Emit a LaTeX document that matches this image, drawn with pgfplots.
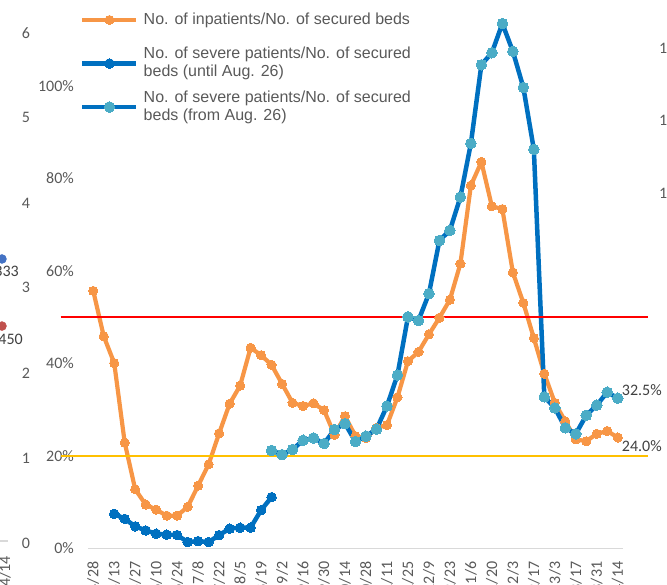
\documentclass[border=0pt]{standalone}
\usepackage{pgfplots}
\pgfplotsset{compat=1.18}
\usepackage{fontspec}
\setmainfont{Liberation Sans}
\newfontfamily\carlito{Carlito}
\definecolor{cor}{HTML}{F79646}
\definecolor{cdb}{HTML}{0070C0}
\definecolor{clb}{HTML}{4BACC6}
\definecolor{tickgray}{HTML}{595959}
\definecolor{lblgray}{HTML}{404040}
\definecolor{axgray}{HTML}{D9D9D9}
\definecolor{cred}{HTML}{FF0000}
\definecolor{cyel}{HTML}{FFC000}
\definecolor{sblue}{HTML}{4472C4}
\definecolor{sred}{HTML}{C0504D}
\newcommand{\tickfont}{\carlito\fontsize{16}{19}\selectfont}
\begin{document}
\begin{tikzpicture}
\begin{axis}[name=ax, scale only axis, width=535pt, height=548.5pt,
 xmin=-0.5, xmax=50.5, ymin=0, ymax=118.6, clip=false,
 axis x line*=bottom, axis y line*=left,
 y axis line style={draw=none},
 x axis line style={draw=axgray, line width=1.5pt},
 major tick length=0pt,
 xtick={0,2,...,50},
 xticklabels={4/28,5/13,5/27,6/10,6/24,7/8,7/22,8/5,8/19,9/2,9/16,9/30,10/14,10/28,11/11,11/25,12/9,12/23,1/6,1/20,2/3,2/17,3/3,3/17,3/31,4/14},
 xticklabel style={rotate=90, anchor=east, inner sep=0pt, font=\tickfont, text=tickgray},
 xticklabel shift=13pt,
 ytick={0,20,...,100},
 yticklabels={0\%,20\%,40\%,60\%,80\%,100\%},
 yticklabel style={inner sep=0pt, font=\tickfont, text=tickgray},
 yticklabel shift=14pt,
 legend cell align=left,
 legend style={at={(axis description cs:-0.0145,1.0032)}, anchor=north west, draw=none, fill=none,
   inner sep=0pt, outer sep=0pt, row sep=0pt, column sep=5pt, nodes={inner sep=0pt, text depth=},
   font=\fontsize{16}{18}\selectfont, text=tickgray},
 legend image code/.code={\draw[mark repeat=2,mark phase=2,#1] plot coordinates {(0pt,0pt) (27pt,0pt) (54pt,0pt)};},
]
% inpatients / secured beds
\addplot[color=cor, line width=4.2pt, line join=round, mark=*, mark size=4.6pt, mark options={fill=cor, draw=cor, line width=0pt}] coordinates {
(0,55.7)(1,45.9)(2,40.1)(3,22.9)(4,12.8)(5,9.5)(6,8.4)(7,7.1)(8,7.1)(9,9.0)
(10,13.6)(11,18.2)(12,24.9)(13,31.3)(14,35.2)(15,43.4)(16,41.8)(17,39.7)(18,35.6)(19,31.5)
(20,30.8)(21,31.4)(22,29.9)(23,24.6)(24,28.6)(25,24.3)(26,23.9)(27,26.1)(28,26.7)(29,32.7)
(30,40.5)(31,42.5)(32,46.3)(33,49.9)(34,53.8)(35,61.6)(36,78.5)(37,83.6)(38,74.0)(39,73.4)
(40,59.7)(41,53.1)(42,45.5)(43,37.8)(44,31.5)(45,27.5)(46,23.6)(47,23.2)(48,24.8)(49,25.4)(50,24.0)};
\addlegendentry{\parbox[c][43.5pt][c]{280pt}{No. of inpatients/No. of secured beds}}
% severe until Aug 26
\addplot[color=cdb, line width=4.5pt, line join=round, mark=*, mark size=4.8pt, mark options={fill=cdb, draw=cdb, line width=0pt}] coordinates {
(2,7.5)(3,6.4)(4,4.8)(5,3.9)(6,3.2)(7,3.0)(8,2.9)(9,1.4)(10,1.6)(11,1.4)
(12,2.9)(13,4.3)(14,4.5)(15,4.5)(16,8.3)(17,11.1)};
\addlegendentry{\parbox[c][43.5pt][c]{280pt}{No. of severe patients/No. of secured\\beds (until Aug. 26)}}
% severe from Aug 26
\addplot[color=cdb, line width=4.5pt, line join=round, mark=*, mark size=5.3pt, mark options={fill=clb, draw=clb, line width=0pt}] coordinates {
(17,21.2)(18,20.3)(19,21.4)(20,23.4)(21,23.9)(22,22.7)(23,25.7)(24,27.0)(25,23.1)(26,24.3)
(27,25.8)(28,30.8)(29,37.5)(30,50.1)(31,49.3)(32,55.1)(33,66.6)(34,68.8)(35,76.0)(36,87.6)
(37,104.6)(38,107.2)(39,113.5)(40,107.5)(41,99.7)(42,86.3)(43,32.8)(44,30.4)(45,26.1)(46,24.8)
(47,28.8)(48,31.0)(49,33.8)(50,32.5)};
\addlegendentry{\parbox[c][43.5pt][c]{280pt}{No. of severe patients/No. of secured\\beds (from Aug. 26)}}
% reference lines
\addplot[forget plot, color=cred, line width=1.8pt] coordinates {(-3.12,50) (52.9,50)};
\addplot[forget plot, color=cyel, line width=1.8pt] coordinates {(-3.12,20) (52.9,20)};
% stray points of the neighbouring chart
\addplot[forget plot, only marks, mark=*, mark size=4.5pt, color=sblue] coordinates {(-8.7,62.6)};
\addplot[forget plot, only marks, mark=*, mark size=4.5pt, color=sred] coordinates {(-8.7,48.1)};
\node[anchor=west, inner sep=0pt, font=\tickfont, text=lblgray, xshift=4pt, yshift=8pt] at (axis cs:50,32.5) {32.5\%};
\node[anchor=west, inner sep=0pt, font=\tickfont, text=lblgray, xshift=4pt, yshift=-9pt] at (axis cs:50,24.0) {24.0\%};
\end{axis}
\begin{scope}[shift={([xshift=-88pt,yshift=548.5pt]ax.south west)}, x=1pt, y=-1pt]
\foreach \v/\yy in {6/33,5/117,4/203,3/287,2/373,1/458,0/543}
  \node[font=\tickfont, text=tickgray] at (26,\yy) {\v};
\node[anchor=east, inner sep=0pt, font=\tickfont, text=lblgray] at (19,271) {333};
\node[anchor=east, inner sep=0pt, font=\tickfont, text=lblgray] at (23,339) {450};
\node[rotate=90, anchor=east, inner sep=0pt, font=\tickfont, text=tickgray] at (5,556) {4/14};
\draw[axgray, line width=1.5pt] (-2,541) -- (8,541);
\foreach \yy in {48,120,193}
  \node[anchor=west, inner sep=0pt, font=\tickfont, text=tickgray] at (659,\yy) {1};
\end{scope}
\pgfresetboundingbox
\path ([xshift=-88pt,yshift=-35.5pt]ax.south west) rectangle ([xshift=44pt]ax.north east);
\end{tikzpicture}
\end{document}
